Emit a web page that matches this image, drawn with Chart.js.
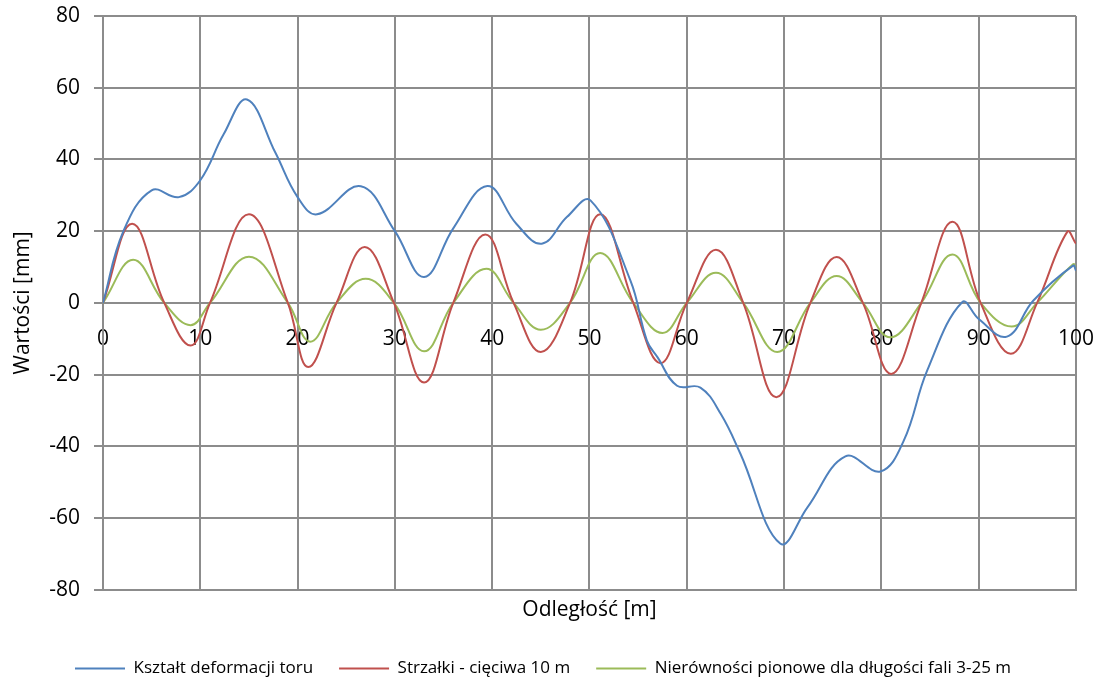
<!DOCTYPE html>
<html>
<head>
<meta charset="utf-8">
<script src="https://cdn.jsdelivr.net/npm/chart.js@4"></script>
<style>
  body { margin: 0; background: #fff; }
  #wrap { width: 1099px; height: 687px; }
</style>
</head>
<body>
<div id="wrap"><canvas id="wykres" width="1099" height="687"></canvas></div>
<script>
// odległość [m] i wartości [mm]
const kształtX = [0, 2.1, 5, 7.8, 10, 12.4, 14.8, 17.7, 20, 22, 26.5, 30, 33, 36, 39.5, 42.5, 45.1, 47.7, 50.1, 54.2, 55.9, 57, 59, 61.4, 63.5, 65.5, 69.6, 72.4, 76.3, 79.9, 82.3, 84.7, 88.3, 90, 92.9, 95.6, 99.7, 100];
const kształtY = [0, 20, 31.4, 29.5, 34.2, 47, 56.7, 42, 29.5, 24.7, 32.5, 20, 7.2, 20.8, 32.6, 22, 16.5, 24, 28.6, 6.3, -10.5, -15.2, -23.1, -23.6, -31, -42, -67.1, -57, -42.8, -47, -38.4, -18.9, 0.2, -4.5, -9.4, 0.6, 10.4, 9];

const strzałkiX = [0, 3, 6.3, 9, 11, 15, 19, 21.1, 24, 26.9, 29.9, 33, 36, 39.3, 42.2, 45, 48, 51.1, 54.5, 57.3, 60, 63, 65.8, 69.2, 72.7, 75.4, 78.1, 81, 84.1, 87.3, 90.2, 93.3, 96, 99.1, 100];
const strzałkiY = [0, 22.1, 0, -11.9, 0, 24.7, 0, -17.9, 0, 15.6, 0, -22.2, 0, 19.1, 0, -13.7, 0, 24.7, 0, -16.8, 0, 14.8, 0, -26.3, 0, 12.8, 0, -19.8, 0, 22.6, 0, -14.2, 0, 19.8, 16.5];

const nierównX = [0, 3.1, 6.3, 9, 11, 15, 19, 21.3, 24, 27, 29.9, 33, 36, 39.4, 42.2, 45, 48, 51.1, 54.5, 57.5, 60, 63, 65.8, 69.3, 72.7, 75.4, 78.1, 80.9, 84.1, 87.3, 90.2, 93.4, 96, 99.7, 100];
const nierównY = [0, 12, 0, -6.2, 0, 12.9, 0, -10.8, 0, 6.7, 0, -13.5, 0, 9.5, 0, -7.5, 0, 13.9, 0, -8.4, 0, 8.4, 0, -13.7, 0, 7.5, 0, -9.6, 0, 13.5, 0, -6.6, 0, 10.8, 9.3];

const nazwySerii = ["Kształt deformacji toru", "Strzałki - cięciwa 10 m", "Nierówności pionowe dla długości fali 3-25 m"];
const kolory = ["#4F81BD", "#C0504D", "#9BBB59"];

const czcionka = "'Open Sans', sans-serif";
const siatka = "#8c8c8c";

function punkty(xs, ys) {
  return xs.map((x, i) => ({ x: x, y: ys[i] }));
}

function seria(i, xs, ys) {
  return {
    label: nazwySerii[i],
    data: punkty(xs, ys),
    borderColor: kolory[i],
    backgroundColor: kolory[i],
    borderWidth: 2,
    pointRadius: 0,
    tension: 0.4,
    fill: false
  };
}

// etykiety osi nie mają rozpychać obszaru wykresu
function bezMarginesu(skala) {
  skala.paddingLeft = 0;
  skala.paddingRight = 0;
  skala.paddingTop = 0;
  skala.paddingBottom = 0;
}

new Chart(document.getElementById('wykres').getContext('2d'), {
  type: 'line',
  data: {
    datasets: [
      seria(0, kształtX, kształtY),
      seria(1, strzałkiX, strzałkiY),
      seria(2, nierównX, nierównY)
    ]
  },
  options: {
    responsive: false,
    animation: false,
    layout: { padding: { top: 16, right: 23, left: 10, bottom: 0 } },
    plugins: {
      tooltip: { enabled: false },
      legend: {
        position: 'bottom',
        labels: {
          boxWidth: 50,
          boxHeight: 0,
          padding: 26,
          color: '#000',
          font: { family: czcionka, size: 17 }
        }
      }
    },
    scales: {
      x: {
        type: 'linear',
        min: 0, max: 100,
        position: { y: 0 },
        afterFit: bezMarginesu,
        grid: { display: false, drawTicks: false },
        border: { display: false },
        ticks: { stepSize: 10, padding: 24, color: '#000', font: { family: czcionka, size: 21 } }
      },
      x2: {
        type: 'linear',
        axis: 'x',
        min: 0, max: 100,
        position: 'bottom',
        afterFit: bezMarginesu,
        grid: { color: siatka, lineWidth: 2, drawTicks: false },
        border: { color: siatka, width: 2 },
        ticks: { stepSize: 10, display: false },
        title: { display: true, text: 'Odległość [m]', color: '#000', padding: { top: 8, bottom: 11 }, font: { family: czcionka, size: 21 } }
      },
      y: {
        min: -80, max: 80,
        afterFit: bezMarginesu,
        grid: { color: siatka, lineWidth: 2, drawTicks: true, tickLength: 9, tickColor: siatka },
        border: { color: siatka, width: 2 },
        ticks: { stepSize: 20, padding: 14, color: '#000', font: { family: czcionka, size: 21 } },
        title: { display: true, text: 'Wartości [mm]', color: '#000', padding: { top: 0, bottom: 0 }, font: { family: czcionka, size: 21 } }
      }
    }
  }
});
</script>
</body>
</html>
